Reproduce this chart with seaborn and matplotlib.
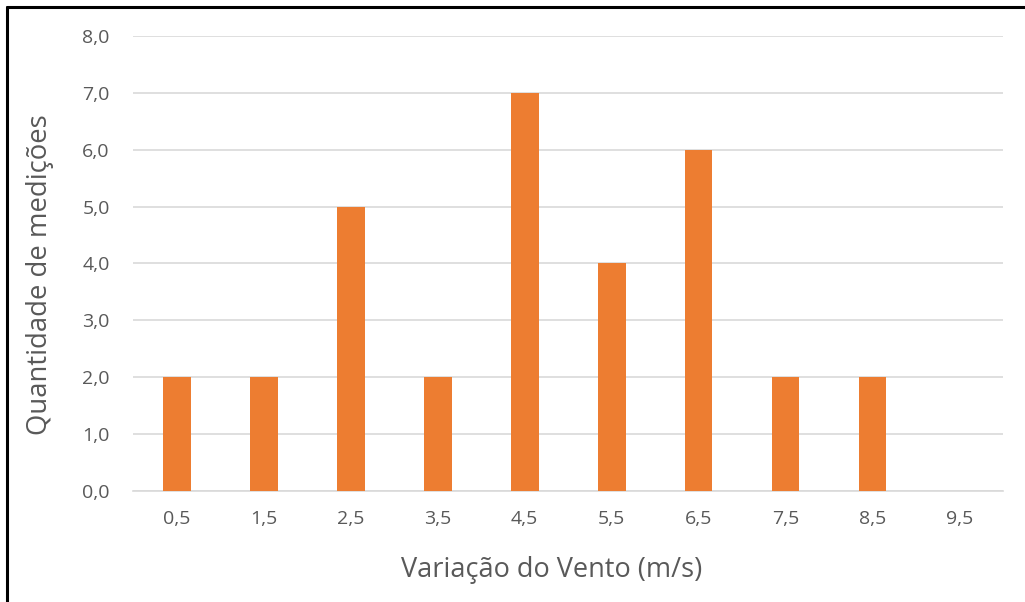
import matplotlib
matplotlib.use("Agg")
import matplotlib.pyplot as plt
from matplotlib.lines import Line2D
from matplotlib.ticker import FuncFormatter
import seaborn as sns
import pandas as pd

# Wind variation bins (m/s) and number of measurements in each
categories = ["0,5", "1,5", "2,5", "3,5", "4,5", "5,5", "6,5", "7,5", "8,5", "9,5"]
counts = [2, 2, 5, 2, 7, 4, 6, 2, 2, 0]
y_ticks = [0, 1, 2, 3, 4, 5, 6, 7, 8]

df = pd.DataFrame({"vento": categories, "medicoes": counts})

sns.set_theme(style="white")
plt.rcParams["font.family"] = ["Open Sans", "DejaVu Sans"]

fig = plt.figure(figsize=(10.25, 6.02), dpi=100)
ax = fig.add_axes([0.13, 0.1844, 0.8485, 0.7558])

sns.barplot(data=df, x="vento", y="medicoes", color="#ED7D31", width=0.32,
            saturation=1, linewidth=0, ax=ax, zorder=3)

ax.set_ylim(0, 8)
ax.set_yticks(y_ticks)
ax.yaxis.set_major_formatter(FuncFormatter(lambda v, _: f"{v:.1f}".replace(".", ",")))
ax.grid(axis="y", color="#D9D9D9", linewidth=1.2, zorder=0)
ax.set_axisbelow(True)
for side in ["top", "right", "left"]:
    ax.spines[side].set_visible(False)
ax.spines["bottom"].set_color("#D9D9D9")
ax.spines["bottom"].set_linewidth(1.2)
ax.tick_params(axis="both", length=0, labelsize=14, colors="#595959")
ax.tick_params(axis="y", pad=17)
ax.tick_params(axis="x", pad=14)

ax.set_xlabel("Variação do Vento (m/s)", fontsize=19.5, color="#595959")
ax.set_ylabel("Quantidade de medições", fontsize=19.8, color="#595959")
ax.xaxis.label.set_va("center")
ax.yaxis.label.set_va("center")
ax.xaxis.set_label_coords(0.4816, -0.174)
ax.yaxis.set_label_coords(-0.107, 0.475)

# Frame lines along the top and left edges of the figure
fig.add_artist(Line2D([0.0068, 1.0], [0.9885, 0.9885], color="black", linewidth=2.2,
                      transform=fig.transFigure))
fig.add_artist(Line2D([0.0068, 0.0068], [0.0, 0.9885], color="black", linewidth=2.2,
                      transform=fig.transFigure))

fig.savefig("out.png", dpi=100)
